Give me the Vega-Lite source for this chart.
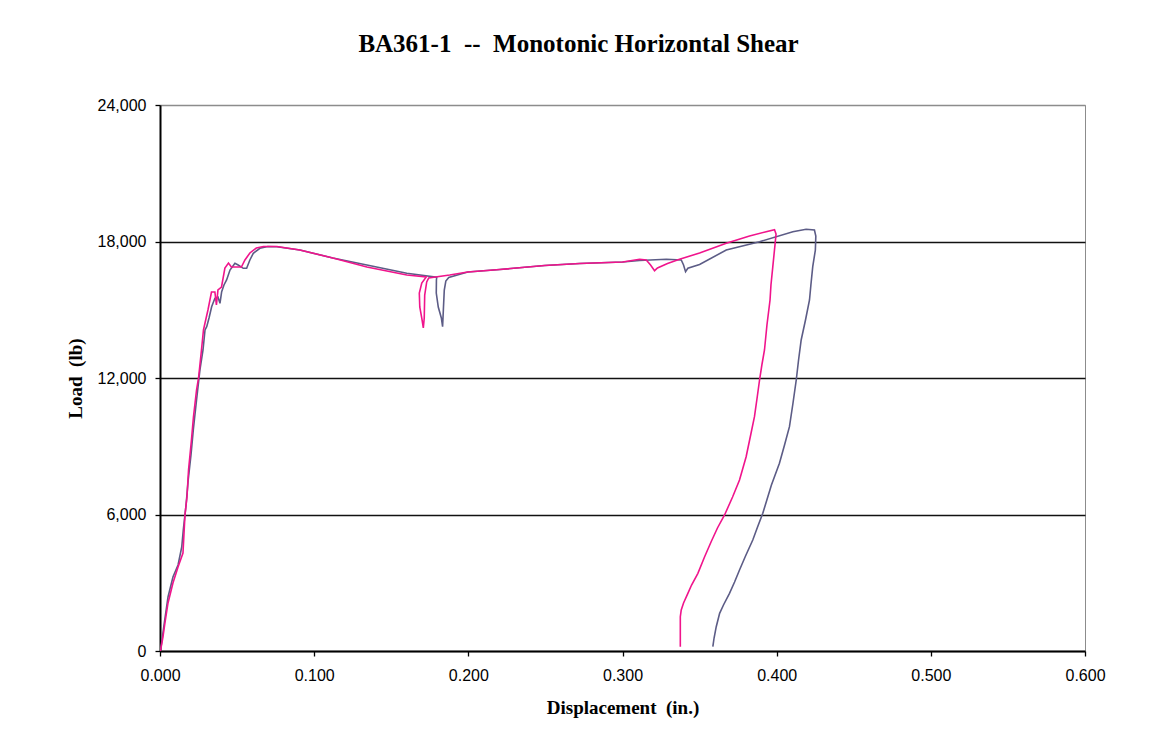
{
  "$schema": "https://vega.github.io/schema/vega-lite/v6.json",
  "width": 925,
  "height": 546,
  "autosize": {"type": "none"},
  "padding": {"left": 160, "top": 105, "right": 75, "bottom": 100},
  "background": "white",
  "title": {
    "text": "BA361-1 \u00a0--\u00a0 Monotonic Horizontal Shear",
    "font": "Liberation Serif",
    "fontSize": 25,
    "fontWeight": "bold",
    "color": "black",
    "anchor": "middle",
    "frame": "group",
    "dx": -44,
    "offset": 40
  },
  "datasets": {
    "pts": [
      {"s":"A","i":1,"d":0.0003,"y":0},
      {"s":"A","i":2,"d":0.0013,"y":484},
      {"s":"A","i":3,"d":0.0026,"y":1143},
      {"s":"A","i":4,"d":0.0052,"y":2374},
      {"s":"A","i":5,"d":0.0084,"y":3253},
      {"s":"A","i":6,"d":0.0117,"y":3780},
      {"s":"A","i":7,"d":0.0141,"y":4571},
      {"s":"A","i":8,"d":0.0151,"y":5319},
      {"s":"A","i":9,"d":0.0169,"y":6418},
      {"s":"A","i":10,"d":0.0183,"y":7516},
      {"s":"A","i":11,"d":0.0201,"y":8615},
      {"s":"A","i":12,"d":0.0216,"y":9714},
      {"s":"A","i":13,"d":0.0237,"y":11033},
      {"s":"A","i":14,"d":0.0259,"y":12352},
      {"s":"A","i":15,"d":0.0279,"y":13231},
      {"s":"A","i":16,"d":0.0292,"y":14110},
      {"s":"A","i":17,"d":0.0303,"y":14255},
      {"s":"A","i":18,"d":0.0318,"y":14637},
      {"s":"A","i":19,"d":0.0335,"y":15134},
      {"s":"A","i":20,"d":0.0356,"y":15503},
      {"s":"A","i":21,"d":0.0376,"y":15560},
      {"s":"A","i":22,"d":0.0389,"y":15283},
      {"s":"A","i":23,"d":0.0400,"y":15793},
      {"s":"A","i":24,"d":0.0415,"y":16088},
      {"s":"A","i":25,"d":0.0432,"y":16308},
      {"s":"A","i":26,"d":0.0454,"y":16747},
      {"s":"A","i":27,"d":0.0486,"y":17042},
      {"s":"A","i":28,"d":0.0507,"y":16967},
      {"s":"A","i":29,"d":0.0540,"y":16822},
      {"s":"A","i":30,"d":0.0562,"y":16822},
      {"s":"A","i":31,"d":0.0583,"y":17187},
      {"s":"A","i":32,"d":0.0605,"y":17481},
      {"s":"A","i":33,"d":0.0648,"y":17701},
      {"s":"A","i":34,"d":0.0700,"y":17780},
      {"s":"A","i":35,"d":0.0758,"y":17771},
      {"s":"A","i":36,"d":0.0907,"y":17626},
      {"s":"A","i":37,"d":0.1121,"y":17275},
      {"s":"A","i":38,"d":0.1342,"y":16967},
      {"s":"A","i":39,"d":0.1601,"y":16602},
      {"s":"A","i":40,"d":0.1795,"y":16426},
      {"s":"A","i":41,"d":0.1793,"y":16308},
      {"s":"A","i":42,"d":0.1792,"y":15736},
      {"s":"A","i":43,"d":0.1805,"y":15121},
      {"s":"A","i":44,"d":0.1825,"y":14637},
      {"s":"A","i":45,"d":0.1833,"y":14255},
      {"s":"A","i":46,"d":0.1838,"y":14989},
      {"s":"A","i":47,"d":0.1844,"y":15868},
      {"s":"A","i":48,"d":0.1854,"y":16264},
      {"s":"A","i":49,"d":0.1873,"y":16418},
      {"s":"A","i":50,"d":0.1996,"y":16659},
      {"s":"A","i":51,"d":0.2204,"y":16769},
      {"s":"A","i":52,"d":0.2495,"y":16945},
      {"s":"A","i":53,"d":0.2722,"y":17033},
      {"s":"A","i":54,"d":0.3001,"y":17099},
      {"s":"A","i":55,"d":0.3111,"y":17165},
      {"s":"A","i":56,"d":0.3284,"y":17218},
      {"s":"A","i":57,"d":0.3381,"y":17187},
      {"s":"A","i":58,"d":0.3396,"y":16967},
      {"s":"A","i":59,"d":0.3409,"y":16673},
      {"s":"A","i":60,"d":0.3424,"y":16822},
      {"s":"A","i":61,"d":0.3500,"y":16989},
      {"s":"A","i":62,"d":0.3673,"y":17626},
      {"s":"A","i":63,"d":0.3889,"y":17991},
      {"s":"A","i":64,"d":0.4105,"y":18431},
      {"s":"A","i":65,"d":0.4191,"y":18537},
      {"s":"A","i":66,"d":0.4245,"y":18506},
      {"s":"A","i":67,"d":0.4254,"y":18242},
      {"s":"A","i":68,"d":0.4251,"y":17626},
      {"s":"A","i":69,"d":0.4234,"y":16893},
      {"s":"A","i":70,"d":0.4222,"y":16088},
      {"s":"A","i":71,"d":0.4213,"y":15429},
      {"s":"A","i":72,"d":0.4187,"y":14550},
      {"s":"A","i":73,"d":0.4159,"y":13670},
      {"s":"A","i":74,"d":0.4142,"y":12791},
      {"s":"A","i":75,"d":0.4127,"y":11912},
      {"s":"A","i":76,"d":0.4106,"y":10901},
      {"s":"A","i":77,"d":0.4083,"y":9859},
      {"s":"A","i":78,"d":0.4051,"y":9055},
      {"s":"A","i":79,"d":0.4018,"y":8251},
      {"s":"A","i":80,"d":0.3966,"y":7297},
      {"s":"A","i":81,"d":0.3910,"y":6053},
      {"s":"A","i":82,"d":0.3876,"y":5451},
      {"s":"A","i":83,"d":0.3845,"y":4879},
      {"s":"A","i":84,"d":0.3798,"y":4176},
      {"s":"A","i":85,"d":0.3759,"y":3560},
      {"s":"A","i":86,"d":0.3727,"y":3033},
      {"s":"A","i":87,"d":0.3694,"y":2536},
      {"s":"A","i":88,"d":0.3655,"y":2022},
      {"s":"A","i":89,"d":0.3630,"y":1657},
      {"s":"A","i":90,"d":0.3608,"y":1068},
      {"s":"A","i":91,"d":0.3594,"y":571},
      {"s":"A","i":92,"d":0.3586,"y":189},
      {"s":"B","i":1,"d":0.0003,"y":0},
      {"s":"B","i":2,"d":0.0019,"y":615},
      {"s":"B","i":3,"d":0.0032,"y":1231},
      {"s":"B","i":4,"d":0.0052,"y":2110},
      {"s":"B","i":5,"d":0.0084,"y":2989},
      {"s":"B","i":6,"d":0.0117,"y":3692},
      {"s":"B","i":7,"d":0.0149,"y":4308},
      {"s":"B","i":8,"d":0.0162,"y":5978},
      {"s":"B","i":9,"d":0.0175,"y":6769},
      {"s":"B","i":10,"d":0.0185,"y":7956},
      {"s":"B","i":11,"d":0.0204,"y":9275},
      {"s":"B","i":12,"d":0.0217,"y":10286},
      {"s":"B","i":13,"d":0.0237,"y":11472},
      {"s":"B","i":14,"d":0.0250,"y":12000},
      {"s":"B","i":15,"d":0.0269,"y":13231},
      {"s":"B","i":16,"d":0.0282,"y":14110},
      {"s":"B","i":17,"d":0.0292,"y":14418},
      {"s":"B","i":18,"d":0.0311,"y":14989},
      {"s":"B","i":19,"d":0.0334,"y":15780},
      {"s":"B","i":20,"d":0.0356,"y":15780},
      {"s":"B","i":21,"d":0.0366,"y":15209},
      {"s":"B","i":22,"d":0.0376,"y":15868},
      {"s":"B","i":23,"d":0.0399,"y":16000},
      {"s":"B","i":24,"d":0.0421,"y":16835},
      {"s":"B","i":25,"d":0.0444,"y":17055},
      {"s":"B","i":26,"d":0.0463,"y":16879},
      {"s":"B","i":27,"d":0.0496,"y":16879},
      {"s":"B","i":28,"d":0.0528,"y":16879},
      {"s":"B","i":29,"d":0.0551,"y":17187},
      {"s":"B","i":30,"d":0.0583,"y":17495},
      {"s":"B","i":31,"d":0.0625,"y":17714},
      {"s":"B","i":32,"d":0.0671,"y":17780},
      {"s":"B","i":33,"d":0.0758,"y":17780},
      {"s":"B","i":34,"d":0.0907,"y":17626},
      {"s":"B","i":35,"d":0.1121,"y":17275},
      {"s":"B","i":36,"d":0.1342,"y":16879},
      {"s":"B","i":37,"d":0.1601,"y":16527},
      {"s":"B","i":38,"d":0.1727,"y":16440},
      {"s":"B","i":39,"d":0.1698,"y":16176},
      {"s":"B","i":40,"d":0.1682,"y":15736},
      {"s":"B","i":41,"d":0.1685,"y":15121},
      {"s":"B","i":42,"d":0.1698,"y":14637},
      {"s":"B","i":43,"d":0.1708,"y":14198},
      {"s":"B","i":44,"d":0.1714,"y":14637},
      {"s":"B","i":45,"d":0.1717,"y":15648},
      {"s":"B","i":46,"d":0.1730,"y":16220},
      {"s":"B","i":47,"d":0.1743,"y":16396},
      {"s":"B","i":48,"d":0.1879,"y":16527},
      {"s":"B","i":49,"d":0.1996,"y":16659},
      {"s":"B","i":50,"d":0.2204,"y":16769},
      {"s":"B","i":51,"d":0.2495,"y":16945},
      {"s":"B","i":52,"d":0.2722,"y":17033},
      {"s":"B","i":53,"d":0.3001,"y":17099},
      {"s":"B","i":54,"d":0.3111,"y":17218},
      {"s":"B","i":55,"d":0.3154,"y":17187},
      {"s":"B","i":56,"d":0.3182,"y":16967},
      {"s":"B","i":57,"d":0.3208,"y":16717},
      {"s":"B","i":58,"d":0.3227,"y":16835},
      {"s":"B","i":59,"d":0.3292,"y":17033},
      {"s":"B","i":60,"d":0.3370,"y":17218},
      {"s":"B","i":61,"d":0.3500,"y":17495},
      {"s":"B","i":62,"d":0.3673,"y":17921},
      {"s":"B","i":63,"d":0.3824,"y":18242},
      {"s":"B","i":64,"d":0.3932,"y":18431},
      {"s":"B","i":65,"d":0.3986,"y":18519},
      {"s":"B","i":66,"d":0.3996,"y":18330},
      {"s":"B","i":67,"d":0.3989,"y":17846},
      {"s":"B","i":68,"d":0.3975,"y":16893},
      {"s":"B","i":69,"d":0.3963,"y":16088},
      {"s":"B","i":70,"d":0.3957,"y":15429},
      {"s":"B","i":71,"d":0.3937,"y":14330},
      {"s":"B","i":72,"d":0.3921,"y":13231},
      {"s":"B","i":73,"d":0.3904,"y":12571},
      {"s":"B","i":74,"d":0.3889,"y":11912},
      {"s":"B","i":75,"d":0.3873,"y":11121},
      {"s":"B","i":76,"d":0.3856,"y":10299},
      {"s":"B","i":77,"d":0.3830,"y":9451},
      {"s":"B","i":78,"d":0.3802,"y":8541},
      {"s":"B","i":79,"d":0.3759,"y":7516},
      {"s":"B","i":80,"d":0.3714,"y":6769},
      {"s":"B","i":81,"d":0.3662,"y":5978},
      {"s":"B","i":82,"d":0.3616,"y":5407},
      {"s":"B","i":83,"d":0.3575,"y":4804},
      {"s":"B","i":84,"d":0.3532,"y":4132},
      {"s":"B","i":85,"d":0.3489,"y":3415},
      {"s":"B","i":86,"d":0.3448,"y":2901},
      {"s":"B","i":87,"d":0.3424,"y":2536},
      {"s":"B","i":88,"d":0.3396,"y":2110},
      {"s":"B","i":89,"d":0.3381,"y":1802},
      {"s":"B","i":90,"d":0.3375,"y":1508},
      {"s":"B","i":91,"d":0.3375,"y":189}
    ]
  },
  "data": {"name": "pts"},
  "mark": {"type": "line", "strokeWidth": 1.6, "clip": true},
  "encoding": {
    "x": {
      "field": "d",
      "type": "quantitative",
      "scale": {"domain": [0, 0.6], "nice": false, "zero": false},
      "axis": {
        "values": [0, 0.1, 0.2, 0.3, 0.4, 0.5, 0.6],
        "format": ".3f",
        "grid": false,
        "domainColor": "black",
        "domainWidth": 2,
        "tickColor": "black",
        "tickWidth": 1.3,
        "tickSize": 5,
        "labelFont": "Liberation Sans",
        "labelFontSize": 16,
        "labelColor": "black",
        "labelPadding": 11,
        "labelFlush": false,
        "title": "Displacement \u00a0(in.)",
        "titleFont": "Liberation Serif",
        "titleFontSize": 19,
        "titleFontWeight": "bold",
        "titleColor": "black",
        "titlePadding": 15
      }
    },
    "y": {
      "field": "y",
      "type": "quantitative",
      "scale": {"domain": [0, 24000], "nice": false},
      "axis": {
        "values": [0, 6000, 12000, 18000, 24000],
        "format": ",.0f",
        "grid": true,
        "gridColor": {"condition": {"test": "datum.value >= 24000 || datum.value <= 0", "value": "#8c8c8c"}, "value": "#111111"},
        "gridWidth": 1.6,
        "gridOpacity": 1,
        "domainColor": "black",
        "domainWidth": 2,
        "tickColor": "black",
        "tickWidth": 1.3,
        "tickSize": 5,
        "labelFont": "Liberation Sans",
        "labelFontSize": 16,
        "labelColor": "black",
        "labelPadding": 9,
        "labelFlush": false,
        "title": "Load \u00a0(lb)",
        "titleFont": "Liberation Serif",
        "titleFontSize": 19,
        "titleFontWeight": "bold",
        "titleColor": "black",
        "titlePadding": 12
      }
    },
    "color": {
      "field": "s",
      "type": "nominal",
      "scale": {"domain": ["A", "B"], "range": ["#5c5c86", "#f0148c"]},
      "legend": null
    },
    "order": {"field": "i", "type": "quantitative"}
  },
  "config": {
    "view": {"stroke": "#8c8c8c", "strokeWidth": 1}
  }
}
